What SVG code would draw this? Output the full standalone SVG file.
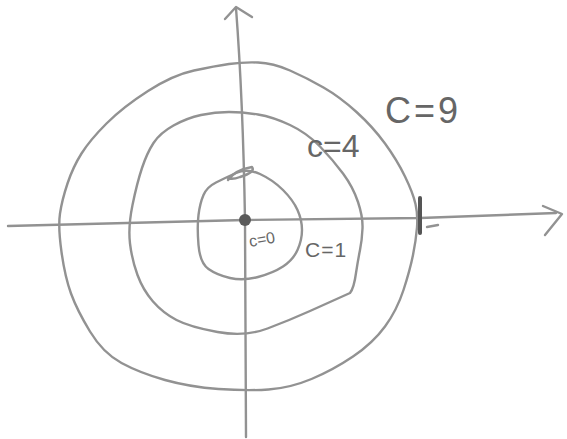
<svg xmlns="http://www.w3.org/2000/svg" width="567" height="439" viewBox="0 0 567 439">
<style>
.pen{fill:none;stroke:#929292;stroke-width:2.4;stroke-linecap:round;stroke-linejoin:round}
.lbl{font-family:"Liberation Sans",Arial,sans-serif;fill:#666666}
</style>
<rect width="567" height="439" fill="#ffffff"/>
<g id="axes">
  <path class="pen" d="M236,8 Q243,100 245,220 L246,437"/>
  <path class="pen" d="M225,19 L236,7 L252,17"/>
  <path class="pen" d="M8,226 L245,220 L420,218 L556,213"/>
  <path class="pen" d="M543,206 L562,214 L545,235"/>
  <path class="pen" d="M427,227 L438,225" stroke-width="1.5"/>
</g>
<g id="curves">
  <g id="c9">
    <path class="pen" d="M229,64 Q243,62 258,62.5 Q273,63 290,70.5 Q307,78 323.5,87.5 Q340,97 356.5,112 Q373,127 385,143.5 Q397,160 405,176.5 Q413,193 415.5,204 Q418,215 417,227.5 Q416,240 413,255 Q410,270 403.5,290 Q397,310 385,326.5 Q373,343 353,356.5 Q333,370 311.5,379 Q290,388 268.5,389.5 Q247,391 218.5,389 Q190,387 165,380 Q140,373 121.5,363 Q103,353 90,331.5 Q77,310 71,293.5 Q65,277 61.5,252 Q58,227 60,213.5 Q62,200 67.5,183.5 Q73,167 81.5,153.5 Q90,140 106.5,123.5 Q123,107 148,91 Q173,75 194,70.5 Q215,66 229,64 Z"/>
    <path d="M420,198 L420,233" stroke="#555" stroke-width="4" stroke-linecap="round"/>
  </g>
  <g id="c4">
    <path class="pen" d="M229,112 Q243,112 258,114.5 Q273,117 290,125 Q307,133 320,146.5 Q333,160 343,173.5 Q353,187 358,202 Q363,217 362.5,228.5 Q362,240 360,250 Q358,260 356,273 Q354,288 350,293 Q330,302 310,311 Q290,320 267.5,328.5 Q245,337 217.5,332 Q190,327 176.5,320 Q163,313 153,301.5 Q143,290 137.5,275 Q132,260 130,243.5 Q128,227 132.5,205 Q137,183 142,168 Q147,153 153.5,143 Q160,133 173.5,125.5 Q187,118 201,115 Q215,112 229,112 Z"/>
  </g>
  <g id="c1">
    <path class="pen" d="M236,173 Q247,168 260,174 Q273,180 283,190 Q293,200 297.5,210 Q302,220 302,230 Q302,240 297.5,250 Q293,260 283,266.5 Q273,273 258,277 Q243,281 230,278 Q217,275 208.5,269 Q200,263 198.5,245 Q197,227 198.5,215 Q200,203 203.5,195 Q207,187 216,182.5 Q225,178 236,173 Z"/>
    <path class="pen" d="M228,180 Q235,170 252,167 Q256,172 240,177 Q232,180 228,178" stroke-width="1.8"/>
  </g>
  <g id="c0">
    <circle cx="245" cy="220" r="6" fill="#5a5a5a"/>
  </g>
</g>
<g id="labels">
  <text class="lbl" x="385" y="123" font-size="36" letter-spacing="3">C=9</text>
  <text class="lbl" x="307" y="157" font-size="32">c=4</text>
  <text class="lbl" x="305" y="257" font-size="21" letter-spacing="1">C=1</text>
  <text class="lbl" x="250" y="247" font-size="16" transform="rotate(-10 250 247)">c=0</text>
</g>
</svg>
